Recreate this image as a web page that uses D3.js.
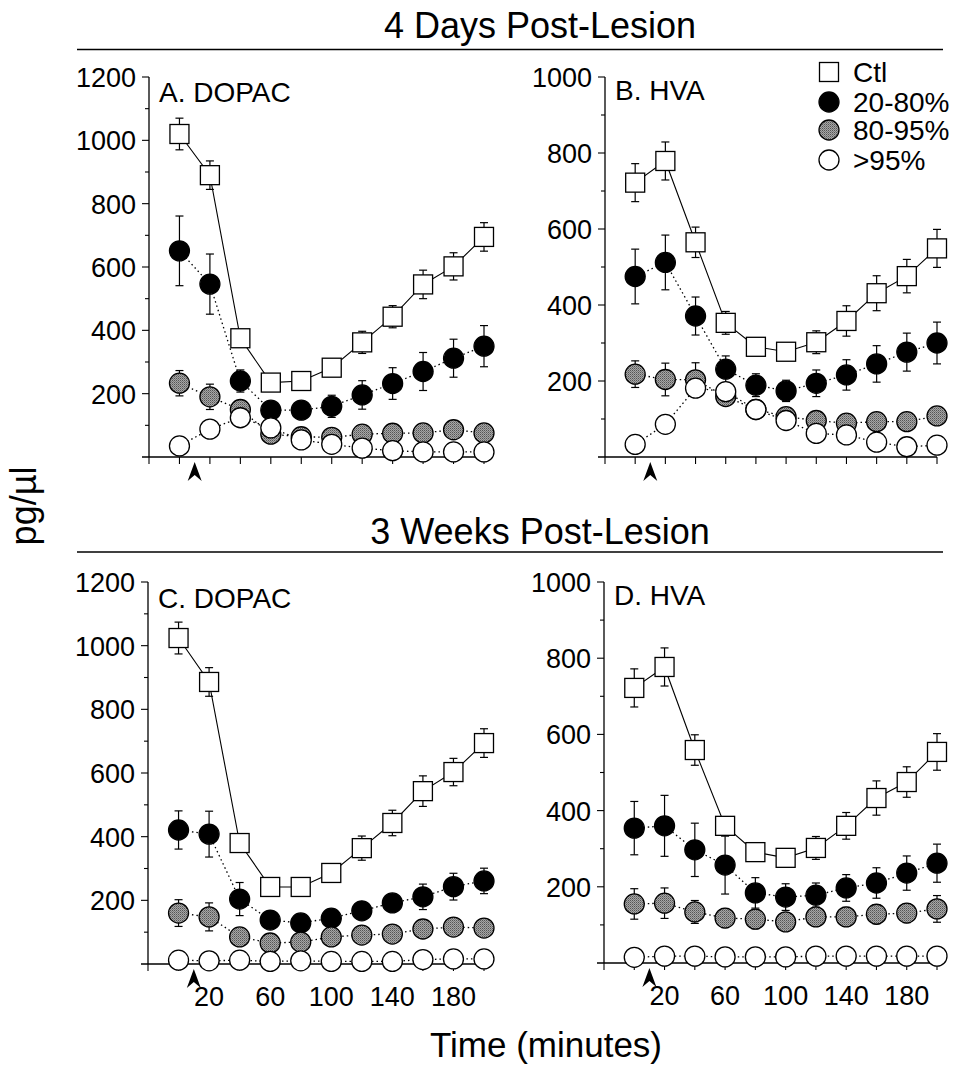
<!DOCTYPE html>
<html>
<head>
<meta charset="utf-8">
<script src="https://cdn.jsdelivr.net/npm/d3@7"></script>
<style>
  body { margin: 0; background: #fff; }
  svg { display: block; font-family: "Liberation Sans", Arial, sans-serif; }
</style>
</head>
<body>
<svg id="chart" width="953" height="1068"></svg>
<script>
// Час відбору проб, хв
const times = [0, 20, 40, 60, 80, 100, 120, 140, 160, 180, 200];
const injectionTime = 10;

const dopacTicks = [200, 400, 600, 800, 1000, 1200];
const hvaTicks = [200, 400, 600, 800, 1000];
const xTickLabels = [20, 60, 100, 140, 180];

const seriesNames = ['Ctl', '20-80%', '80-95%', '>95%'];

// A. DOPAC, 4 дні
const dopac4Ctl = [1020, 890, 375, 235, 240, 282, 362, 443, 545, 602, 695];
const dopac4CtlErr = [50, 45, 20, 20, 20, 20, 35, 35, 45, 43, 45];
const dopac4Mid = [651, 546, 240, 148, 148, 160, 196, 232, 270, 312, 350];
const dopac4MidErr = [110, 95, 35, 20, 20, 35, 45, 50, 60, 60, 65];
const dopac4High = [233, 190, 150, 72, 64, 62, 72, 75, 76, 86, 76];
const dopac4HighErr = [40, 40, 15, 10, 10, 10, 10, 10, 10, 10, 10];
const dopac4Full = [35, 88, 124, 92, 54, 40, 28, 20, 16, 16, 16];
const dopac4FullErr = [8, 8, 10, 8, 8, 8, 8, 8, 8, 8, 8];

// B. HVA, 4 дні
const hva4Ctl = [722, 779, 565, 353, 290, 277, 302, 358, 431, 476, 549];
const hva4CtlErr = [50, 50, 40, 30, 15, 15, 30, 40, 46, 44, 50];
const hva4Mid = [475, 512, 371, 231, 189, 174, 194, 216, 245, 276, 300];
const hva4MidErr = [72, 72, 50, 35, 30, 28, 35, 40, 48, 50, 55];
const hva4High = [218, 204, 203, 159, 125, 106, 96, 89, 93, 93, 108];
const hva4HighErr = [35, 43, 45, 15, 10, 10, 10, 10, 10, 10, 10];
const hva4Full = [33, 86, 181, 172, 125, 96, 62, 58, 39, 27, 31];
const hva4FullErr = [8, 8, 10, 10, 8, 8, 8, 8, 8, 8, 8];

// C. DOPAC, 3 тижні
const dopac3Ctl = [1024, 886, 380, 242, 242, 286, 364, 443, 543, 603, 694];
const dopac3CtlErr = [50, 45, 20, 15, 15, 15, 38, 40, 48, 43, 45];
const dopac3Mid = [421, 408, 204, 138, 129, 144, 167, 192, 211, 243, 261];
const dopac3MidErr = [60, 72, 52, 15, 15, 15, 15, 15, 40, 42, 40];
const dopac3High = [160, 148, 85, 66, 69, 85, 91, 94, 110, 116, 113];
const dopac3HighErr = [42, 44, 10, 10, 10, 10, 10, 10, 10, 10, 10];
const dopac3Full = [12, 10, 12, 8, 10, 8, 8, 8, 14, 16, 16];
const dopac3FullErr = [5, 5, 5, 5, 5, 5, 5, 5, 5, 5, 5];

// D. HVA, 3 тижні
const hva3Ctl = [722, 777, 559, 360, 291, 276, 302, 360, 433, 475, 554];
const hva3CtlErr = [50, 50, 40, 20, 15, 15, 30, 35, 45, 40, 48];
const hva3Mid = [354, 360, 297, 257, 184, 173, 178, 197, 210, 236, 262];
const hva3MidErr = [70, 80, 70, 76, 40, 35, 32, 35, 40, 45, 50];
const hva3High = [155, 157, 134, 118, 115, 108, 121, 121, 128, 131, 142];
const hva3HighErr = [40, 40, 30, 25, 25, 20, 25, 25, 25, 25, 35];
const hva3Full = [15, 18, 18, 16, 16, 16, 18, 18, 18, 18, 18];
const hva3FullErr = [5, 5, 5, 5, 5, 5, 5, 5, 5, 5, 5];

const svg = d3.select('#chart');

// Дрібне сіре штрихування для групи 80-95%
const defs = svg.append('defs');
const pat = defs.append('pattern')
  .attr('id', 'hatch')
  .attr('width', 2)
  .attr('height', 2)
  .attr('patternUnits', 'userSpaceOnUse');
pat.append('rect').attr('width', 2).attr('height', 2).attr('fill', '#a6a6a6');
pat.append('rect').attr('width', 1).attr('height', 1).attr('fill', '#555');
pat.append('rect').attr('x', 1).attr('y', 1).attr('width', 1).attr('height', 1).attr('fill', '#7a7a7a');

const styles = [
  { shape: 'square', fill: '#fff', dash: null },
  { shape: 'circle', fill: '#000', dash: '1.5,3' },
  { shape: 'circle', fill: 'url(#hatch)', dash: '1.5,3' },
  { shape: 'circle', fill: '#fff', dash: '1.5,3' }
];

function drawMarker(g, shape, fill, cx, cy) {
  if (shape === 'square') {
    g.append('rect')
      .attr('x', cx - 9.5).attr('y', cy - 9.5)
      .attr('width', 19).attr('height', 19)
      .attr('fill', fill).attr('stroke', '#000').attr('stroke-width', 1.3);
  } else {
    g.append('circle')
      .attr('cx', cx).attr('cy', cy).attr('r', 10)
      .attr('fill', fill).attr('stroke', '#000').attr('stroke-width', 1.3);
  }
}

function drawPanel(p) {
  const x = d3.scaleLinear().domain([-20, 200]).range([p.x0, p.x1]);
  const y = d3.scaleLinear().domain([0, p.yMax]).range([p.yBottom, p.yTop]);
  const g = svg.append('g');

  // Вісь Y з великими та малими рисками
  g.append('line')
    .attr('x1', p.x0).attr('x2', p.x0)
    .attr('y1', y(0)).attr('y2', y(p.yMax))
    .attr('stroke', '#000').attr('stroke-width', 1.3);
  const minor = d3.range(100, p.yMax + 1, 100);
  g.selectAll('.ytick').data(minor).enter().append('line')
    .attr('x1', d => p.x0 - (d % 200 === 0 ? 7 : 4))
    .attr('x2', p.x0)
    .attr('y1', d => y(d)).attr('y2', d => y(d))
    .attr('stroke', '#000').attr('stroke-width', 1.1);
  g.selectAll('.ylab').data(p.ticks).enter().append('text')
    .attr('x', p.x0 - 13)
    .attr('y', d => y(d) + 10)
    .attr('text-anchor', 'end')
    .style('font-size', '27px')
    .text(d => d);

  // Вісь X
  g.append('line')
    .attr('x1', p.x0 - 7).attr('x2', x(200))
    .attr('y1', y(0)).attr('y2', y(0))
    .attr('stroke', '#000').attr('stroke-width', 1.3);
  g.selectAll('.xtick').data(d3.range(-20, 201, 20)).enter().append('line')
    .attr('x1', d => x(d)).attr('x2', d => x(d))
    .attr('y1', y(0)).attr('y2', y(0) + 7)
    .attr('stroke', '#000').attr('stroke-width', 1.1);
  if (p.xLabels) {
    g.selectAll('.xlab').data(xTickLabels).enter().append('text')
      .attr('x', d => x(d))
      .attr('y', y(0) + 42)
      .attr('text-anchor', 'middle')
      .style('font-size', '27px')
      .text(d => d);
  }

  // Стрілка — момент введення
  const ax = x(injectionTime), ay = y(0) + 5;
  g.append('path')
    .attr('d', `M${ax},${ay} L${ax + 7},${ay + 19} L${ax},${ay + 13} L${ax - 7},${ay + 19} Z`)
    .attr('fill', '#000');

  g.append('text')
    .attr('x', p.x0 + 10).attr('y', p.labelY)
    .style('font-size', '28px')
    .text(p.label);

  p.series.forEach((s, i) => {
    const st = styles[i];
    const pts = times.map((t, k) => ({ t, v: s.values[k], e: s.err[k] }));
    g.append('path')
      .datum(pts)
      .attr('d', d3.line().x(d => x(d.t)).y(d => y(d.v)))
      .attr('fill', 'none')
      .attr('stroke', '#000')
      .attr('stroke-width', st.dash ? 1.3 : 1.1)
      .attr('stroke-dasharray', st.dash);
    pts.forEach(d => {
      const cx = x(d.t);
      g.append('line')
        .attr('x1', cx).attr('x2', cx)
        .attr('y1', y(d.v + d.e)).attr('y2', y(Math.max(0, d.v - d.e)))
        .attr('stroke', '#000').attr('stroke-width', 1.2);
      [d.v + d.e, Math.max(0, d.v - d.e)].forEach(v => {
        g.append('line')
          .attr('x1', cx - 4).attr('x2', cx + 4)
          .attr('y1', y(v)).attr('y2', y(v))
          .attr('stroke', '#000').attr('stroke-width', 1.2);
      });
    });
    pts.forEach(d => drawMarker(g, st.shape, st.fill, x(d.t), y(d.v)));
  });
}

drawPanel({
  x0: 149, x1: 484, yTop: 77, yBottom: 457, yMax: 1200, ticks: dopacTicks,
  label: 'A. DOPAC', labelY: 102, xLabels: false,
  series: [
    { values: dopac4Ctl, err: dopac4CtlErr },
    { values: dopac4Mid, err: dopac4MidErr },
    { values: dopac4High, err: dopac4HighErr },
    { values: dopac4Full, err: dopac4FullErr }
  ]
});
drawPanel({
  x0: 605, x1: 937, yTop: 77, yBottom: 457, yMax: 1000, ticks: hvaTicks,
  label: 'B. HVA', labelY: 100, xLabels: false,
  series: [
    { values: hva4Ctl, err: hva4CtlErr },
    { values: hva4Mid, err: hva4MidErr },
    { values: hva4High, err: hva4HighErr },
    { values: hva4Full, err: hva4FullErr }
  ]
});
drawPanel({
  x0: 148, x1: 484, yTop: 582, yBottom: 964, yMax: 1200, ticks: dopacTicks,
  label: 'C. DOPAC', labelY: 608, xLabels: true,
  series: [
    { values: dopac3Ctl, err: dopac3CtlErr },
    { values: dopac3Mid, err: dopac3MidErr },
    { values: dopac3High, err: dopac3HighErr },
    { values: dopac3Full, err: dopac3FullErr }
  ]
});
drawPanel({
  x0: 604, x1: 937, yTop: 582, yBottom: 963, yMax: 1000, ticks: hvaTicks,
  label: 'D. HVA', labelY: 605, xLabels: true,
  series: [
    { values: hva3Ctl, err: hva3CtlErr },
    { values: hva3Mid, err: hva3MidErr },
    { values: hva3High, err: hva3HighErr },
    { values: hva3Full, err: hva3FullErr }
  ]
});

// Заголовки з лініями
[{ text: '4 Days Post-Lesion', y: 38, line: 49.5 },
 { text: '3 Weeks Post-Lesion', y: 544, line: 552 }].forEach(h => {
  svg.append('text')
    .attr('x', 540).attr('y', h.y)
    .attr('text-anchor', 'middle')
    .style('font-size', '36px')
    .text(h.text);
  svg.append('line')
    .attr('x1', 77).attr('x2', 943)
    .attr('y1', h.line).attr('y2', h.line)
    .attr('stroke', '#000').attr('stroke-width', 1.5);
});

// Легенда
const legend = svg.append('g');
seriesNames.forEach((name, i) => {
  const cy = [72, 102, 130, 160][i];
  drawMarker(legend, styles[i].shape, styles[i].fill, 829, cy);
  legend.append('text')
    .attr('x', 853).attr('y', cy + 10)
    .style('font-size', '28px')
    .text(name);
});

svg.append('text')
  .attr('transform', 'translate(36, 506) rotate(-90)')
  .attr('text-anchor', 'middle')
  .style('font-size', '36px')
  .text('pg/µl');

svg.append('text')
  .attr('x', 546).attr('y', 1057)
  .attr('text-anchor', 'middle')
  .style('font-size', '35px')
  .text('Time (minutes)');
</script>
</body>
</html>
